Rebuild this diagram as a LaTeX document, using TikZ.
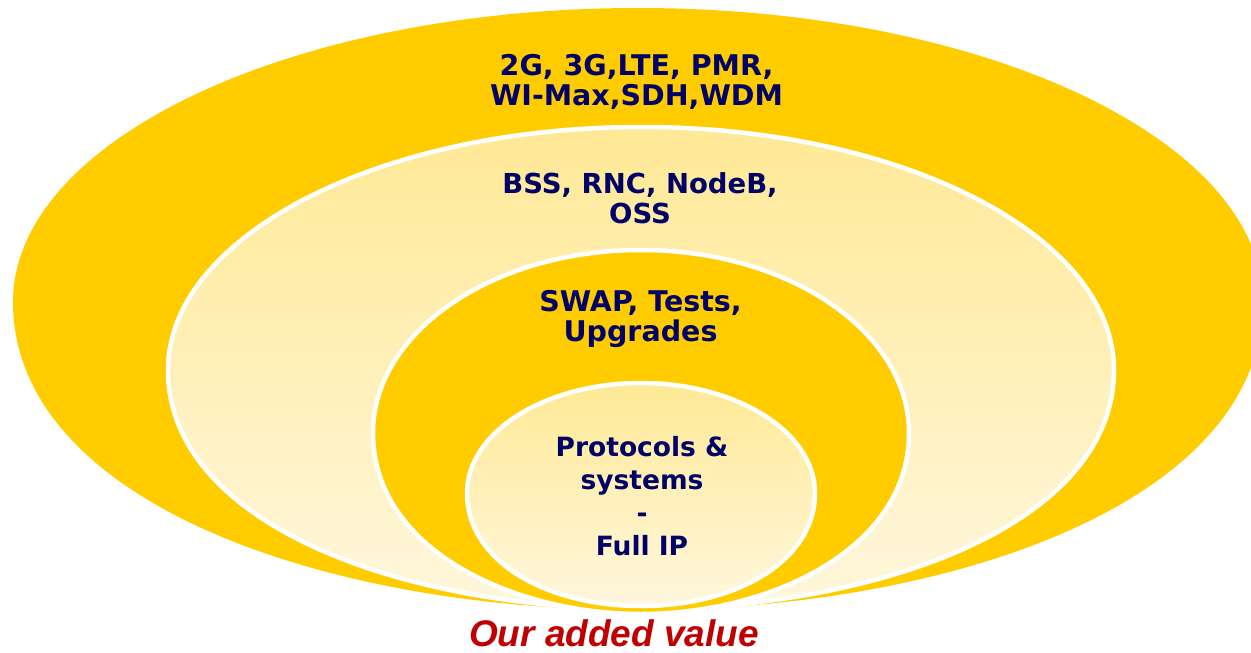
\documentclass[tikz,border=0pt]{standalone}
\usepackage{fontspec}
\setmainfont{DejaVu Sans}
\newfontfamily\redfont{Liberation Sans}
\definecolor{gold}{RGB}{255,204,0}
\definecolor{paletop}{RGB}{255,233,150}
\definecolor{palebot}{RGB}{255,247,221}
\definecolor{navy}{RGB}{0,0,102}
\definecolor{valred}{RGB}{192,0,0}
% cx, yw (widest y), a (half width), top y, bottom y, ktop, kbx, kby
\newcommand{\eggpath}[8]{%
 (#1,#5) .. controls ({#1-#7*#3},#5) and ({#1-#3},{#2+#8*(#5-#2)}) .. ({#1-#3},#2)
 .. controls ({#1-#3},{#2-#6*(#2-#4)}) and ({#1-#6*#3},#4) .. (#1,#4)
 .. controls ({#1+#6*#3},#4) and ({#1+#3},{#2-#6*(#2-#4)}) .. ({#1+#3},#2)
 .. controls ({#1+#3},{#2+#8*(#5-#2)}) and ({#1+#7*#3},#5) .. (#1,#5) -- cycle}
\tikzset{
  goldfill/.style={fill=gold},
  goldring/.style={fill=gold, draw=white, line width=4.5pt},
  palering/.style={top color=paletop, bottom color=palebot, draw=white, line width=4.5pt},
  lbl/.style={font=\bfseries\fontsize{28.5}{30}\selectfont, text=navy, align=center, inner sep=0pt, anchor=base},
}
\begin{document}
\begin{tikzpicture}[x=1pt,y=-1pt]
\useasboundingbox (0,0) rectangle (1251,653);
\clip (0,0) rectangle (1251,653);
\path[goldfill] \eggpath{638}{302}{625}{8}{610}{0.5523}{0.5}{0.65};
\path[palering] \eggpath{641}{370}{473}{127}{609}{0.5523}{0.5}{0.65};
\path[goldring] \eggpath{641}{433}{268}{250}{614}{0.5523}{0.47}{0.65};
\path[palering] \eggpath{641}{493}{174}{383}{606}{0.5523}{0.55}{0.6};
\node[lbl] (t1) at (636.5,105) {2G, 3G,LTE, PMR,\\WI-Max,SDH,WDM};
\node[lbl, font=\bfseries\fontsize{27.5}{30}\selectfont] (t2) at (640,223) {BSS, RNC, NodeB,\\OSS};
\node[lbl] (t3) at (640.5,341) {SWAP, Tests,\\Upgrades};
\node[lbl, font=\bfseries\fontsize{26.5}{32.7}\selectfont] (t4) at (642,555) {Protocols \&\\systems\\-\\Full IP};
\node[font=\redfont\bfseries\itshape\fontsize{37}{40}\selectfont, text=valred, inner sep=0pt, anchor=base] (val) at (614,646) {Our added value};
\end{tikzpicture}
\end{document}
